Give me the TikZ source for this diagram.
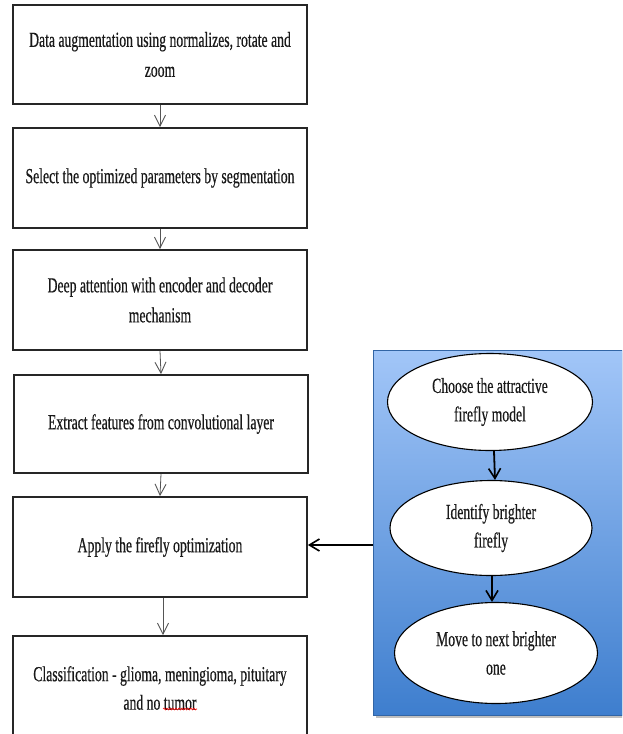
\documentclass[tikz,border=0pt]{standalone}
\usepackage{fontspec}
\setmainfont[FakeStretch=0.64,FakeBold=0.4]{Liberation Serif}
\usetikzlibrary{shapes.geometric,arrows.meta,decorations.pathmorphing}
\definecolor{panelTop}{HTML}{A2C6F8}
\definecolor{panelBot}{HTML}{3E7ECE}
\definecolor{arrgray}{HTML}{555555}
\begin{document}
\begin{tikzpicture}[x=1pt,y=-1pt,
  every node/.style={font=\fontsize{21.4}{28.5}\selectfont, align=center, text=black!90},
  stepbox/.style={draw=black!85, line width=1.8pt, fill=white, rectangle, minimum width=294pt, minimum height=100pt, inner sep=0pt, font=\fontsize{21.4}{30}\selectfont},
  oval/.style={draw=black, line width=1.1pt, fill=white, ellipse, inner sep=0pt},
  garrow/.style={draw=arrgray, line width=0.8pt, -{Straight Barb[length=11pt,width=11pt,line width=0.9pt]}},
  barrow/.style={draw=black, line width=1.8pt, -{Straight Barb[length=10pt,width=12pt,line width=1.6pt]}}
]
\clip (0,0) rectangle (622,734);
\fill[white] (0,0) rectangle (622,734);

% left column boxes
\node[stepbox, minimum height=99pt] (b1) at (160,54.5) {Data augmentation using normalizes, rotate and\\zoom};
\node[stepbox] (b2) at (160,178) {Select the optimized parameters by segmentation};
\node[stepbox] (b3) at (160,300) {Deep attention with encoder and decoder\\mechanism};
\node[stepbox, minimum height=98pt] (b4) at (161,424) {Extract features from convolutional layer};
\node[stepbox] (b5) at (160,547) {Apply the firefly optimization};
\node[stepbox, minimum height=104pt, font=\fontsize{21.4}{28.5}\selectfont] (b6) at (160,688) {Classification - glioma, meningioma, pituitary\\and no tumor};

\draw[red, line width=0.6pt, decorate, decoration={snake, amplitude=0.9pt, segment length=3pt}] (163,709) -- (197,709);

\draw[garrow] (b1.south) -- (b2.north);
\draw[garrow] (b2.south) -- (b3.north);
\draw[garrow] (b3.south) -- (b4.north);
\draw[garrow] (b4.south) -- (b5.north);
\draw[garrow] ([xshift=3pt]b5.south) -- ([xshift=3pt]b6.north);

% right panel
\fill[black, opacity=0.25] (376,353) rectangle (625,718);
\node[rectangle, minimum width=249pt, minimum height=365pt, inner sep=0pt, top color=panelTop, bottom color=panelBot, draw=panelBot!80!black, line width=0.4pt] (p) at (497.5,532.5) {};

\node[oval, minimum width=205pt, minimum height=97pt] (e1) at (490,402) {Choose the attractive\\firefly model};
\node[oval, minimum width=202pt, minimum height=95pt] (e2) at (491,528) {Identify brighter\\firefly};
\node[oval, minimum width=203pt, minimum height=101pt] (e3) at (496,653) {Move to next brighter\\one};

\draw[barrow] ([xshift=4pt]e1.south) -- ([xshift=4pt]e2.north);
\draw[barrow] ([xshift=1pt]e2.south) -- ([xshift=-4pt]e3.north);

\draw[barrow] (p.west |- 0,545) -- (b5.east |- 0,545);
\end{tikzpicture}
\end{document}
